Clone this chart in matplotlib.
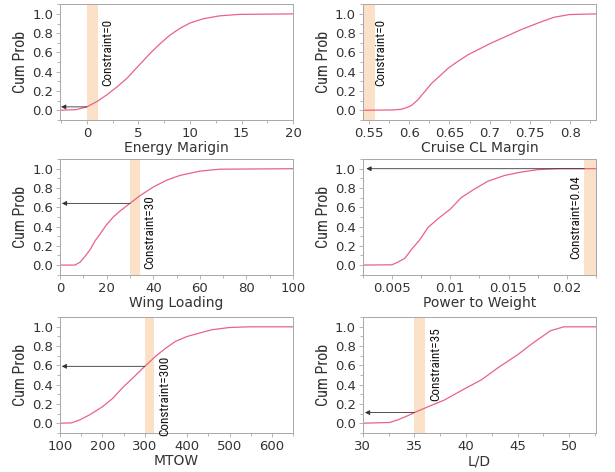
import matplotlib.pyplot as plt
from matplotlib.ticker import AutoMinorLocator
from matplotlib import font_manager

# Energy Marigin
em_x = [-2.6, -1.0, 0.0, 0.97, 1.94, 2.9, 3.87, 5.0, 6.13, 7.1, 8.06, 9.03, 10.0, 11.3, 12.9, 14.8, 20.0]
em_y = [0.0, 0.007, 0.035, 0.09, 0.16, 0.24, 0.33, 0.46, 0.59, 0.69, 0.78, 0.85, 0.905, 0.95, 0.98, 0.995, 1.0]

# Cruise CL Margin
cl_x = [0.5425, 0.58, 0.59, 0.597, 0.603, 0.611, 0.619, 0.628, 0.636, 0.649, 0.661, 0.674, 0.686,
        0.70, 0.72, 0.74, 0.76, 0.78, 0.799, 0.832]
cl_y = [0.0, 0.003, 0.01, 0.028, 0.05, 0.11, 0.19, 0.28, 0.34, 0.44, 0.51, 0.58, 0.63,
        0.69, 0.765, 0.84, 0.905, 0.965, 0.993, 1.0]

# Wing Loading
wl_x = [0, 6.4, 8.6, 10.7, 12.9, 15.0, 17.1, 20.0, 22.9, 25.7, 30.0, 34.3, 40.0, 45.7, 51.4, 60.0, 68.6, 100]
wl_y = [0.0, 0.0, 0.03, 0.09, 0.16, 0.25, 0.32, 0.42, 0.50, 0.56, 0.64, 0.72, 0.81, 0.88, 0.93, 0.975, 0.995, 1.0]

# Power to Weight
pw_x = [0.0025, 0.005, 0.0055, 0.0061, 0.00666, 0.00737, 0.00809, 0.00894, 0.010, 0.01094, 0.01209,
        0.01323, 0.01466, 0.01609, 0.01751, 0.01923, 0.0225]
pw_y = [0.0, 0.003, 0.03, 0.07, 0.16, 0.26, 0.39, 0.48, 0.58, 0.70, 0.79,
        0.87, 0.93, 0.965, 0.99, 1.0, 1.0]

# MTOW
mt_x = [100, 127, 147, 170, 200, 225, 248, 272, 300, 327, 350, 373, 400, 428, 459, 500, 545, 650]
mt_y = [0.0, 0.003, 0.035, 0.087, 0.17, 0.26, 0.37, 0.47, 0.59, 0.70, 0.78, 0.85, 0.90, 0.934, 0.97, 0.993, 1.0, 1.0]

# L/D
ld_x = [30, 32.6, 33.4, 34.4, 35.0, 36.3, 37.9, 40.0, 41.5, 43.1, 45.0, 46.6, 48.2, 49.5, 52.6]
ld_y = [0.0, 0.007, 0.035, 0.08, 0.11, 0.17, 0.24, 0.365, 0.45, 0.575, 0.71, 0.84, 0.96, 1.0, 1.0]

panels = [
    dict(x=em_x, y=em_y, xlabel='Energy Marigin', xlim=(-2.6, 20), xticks=[0, 5, 10, 15, 20],
         xticklabels=None, band=(0, 1.1), text='Constraint=0', tx=2.0, ty=0.6,
         arrow=(0, 0.035, -2.5)),
    dict(x=cl_x, y=cl_y, xlabel='Cruise CL Margin', xlim=(0.5425, 0.832),
         xticks=[0.55, 0.6, 0.65, 0.7, 0.75, 0.8],
         xticklabels=['0.55', '0.6', '0.65', '0.7', '0.75', '0.8'],
         band=(0.5, 0.558), text='Constraint=0', tx=0.565, ty=0.6, arrow=None),
    dict(x=wl_x, y=wl_y, xlabel='Wing Loading', xlim=(0, 100), xticks=[0, 20, 40, 60, 80, 100],
         xticklabels=None, band=(30, 34.3), text='Constraint=30', tx=38.6, ty=0.34,
         arrow=(30, 0.64, 0.8)),
    dict(x=pw_x, y=pw_y, xlabel='Power to Weight', xlim=(0.0025, 0.0225),
         xticks=[0.005, 0.01, 0.015, 0.02], xticklabels=['0.005', '0.01', '0.015', '0.02'],
         band=(0.0215, 0.03), text='Constraint=0.04', tx=0.0208, ty=0.5,
         arrow=(0.0215, 1.0, 0.0028)),
    dict(x=mt_x, y=mt_y, xlabel='MTOW', xlim=(100, 650), xticks=[100, 200, 300, 400, 500, 600],
         xticklabels=None, band=(300, 322), text='Constraint=300', tx=346, ty=0.28,
         arrow=(300, 0.59, 104)),
    dict(x=ld_x, y=ld_y, xlabel='L/D', xlim=(30, 52.6), xticks=[30, 35, 40, 45, 50],
         xticklabels=None, band=(35, 36.0), text='Constraint=35', tx=37.1, ty=0.61,
         arrow=(35, 0.11, 30.2)),
]

# pick a condensed face if one is installed
names = {f.name for f in font_manager.fontManager.ttflist}
narrow = None
for cand in ['Liberation Sans Narrow', 'DejaVu Sans Condensed', 'Roboto Condensed', 'Open Sans Condensed']:
    if cand in names:
        narrow = cand
        break
narrow_kw = dict(family=narrow) if narrow else dict(family='DejaVu Sans', stretch='condensed')

curve_color = '#e8628c'
band_color = '#fbe1c8'
frame_color = '#a8a8a8'
text_color = '#333333'

fig = plt.figure(figsize=(6.15, 4.72), dpi=100)
lefts = [0.0976, 0.590]
bottoms = [0.746, 0.418, 0.083]
w, h = 0.379, 0.245

for i, p in enumerate(panels):
    ax = fig.add_axes([lefts[i % 2], bottoms[i // 2], w, h])
    ax.axvspan(p['band'][0], p['band'][1], color=band_color, lw=0, zorder=0)
    ax.plot(p['x'], p['y'], color=curve_color, lw=0.9, zorder=2)
    if p['arrow'] is not None:
        x0, yv, x1 = p['arrow']
        ax.annotate('', xy=(x1, yv), xytext=(x0, yv),
                    arrowprops=dict(arrowstyle='-|>', color='#333333', lw=0.6,
                                    mutation_scale=7, shrinkA=0, shrinkB=0), zorder=3)
    ax.text(p['tx'], p['ty'], p['text'], rotation=90, ha='center', va='center',
            fontsize=9.5, color='#111111', **narrow_kw)
    ax.set_xlim(*p['xlim'])
    ax.set_ylim(-0.1, 1.1)
    ax.set_xticks(p['xticks'])
    if p['xticklabels'] is not None:
        ax.set_xticklabels(p['xticklabels'])
    ax.set_yticks([0, 0.2, 0.4, 0.6, 0.8, 1.0])
    ax.set_yticklabels(['0.0', '0.2', '0.4', '0.6', '0.8', '1.0'])
    ax.yaxis.set_minor_locator(AutoMinorLocator(2))
    ax.xaxis.set_minor_locator(AutoMinorLocator(2))
    ax.tick_params(which='both', colors=frame_color, labelcolor=text_color, labelsize=9.5,
                   length=3, width=0.6, pad=2)
    ax.tick_params(which='minor', length=2)
    for s in ax.spines.values():
        s.set_color(frame_color)
        s.set_linewidth(0.7)
    ax.set_xlabel(p['xlabel'], fontsize=10, color=text_color, labelpad=1)
    ax.set_ylabel('Cum Prob', fontsize=11.5, color=text_color, labelpad=3, **narrow_kw)

fig.savefig('out.png', dpi=100)
